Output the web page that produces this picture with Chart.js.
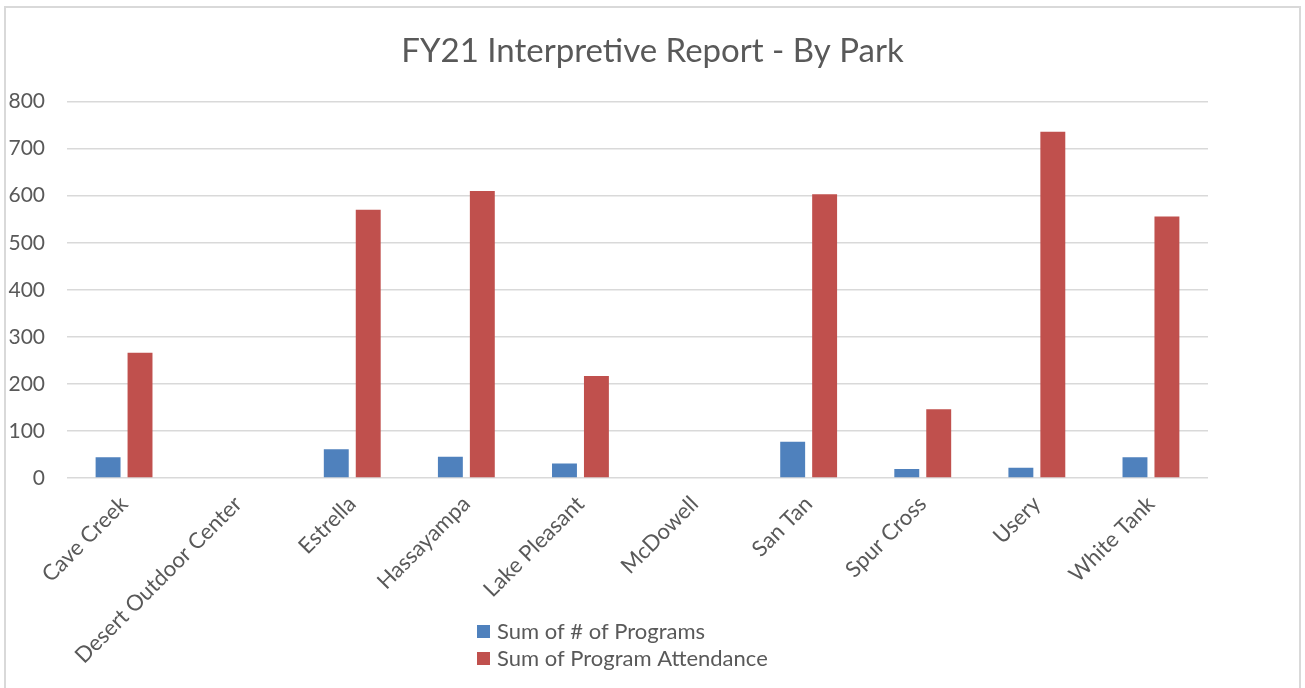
<!DOCTYPE html>
<html>
<head>
<meta charset="utf-8">
<script src="https://cdn.jsdelivr.net/npm/chart.js@4"></script>
<style>
    html, body { margin: 0; padding: 0; background: #fff; }
    #wrap { position: relative; width: 1305px; height: 688px; overflow: hidden; }
    #frame {
        position: absolute; left: 4px; top: 6px; width: 1297px; height: 720px;
        border: 2px solid #d9d9d9; box-sizing: border-box;
    }
    #parkChart { position: absolute; left: 0; top: 0; }
</style>
</head>
<body>
<div id="wrap">
    <div id="frame"></div>
    <canvas id="parkChart" width="1305" height="688"></canvas>
</div>
<script>
const parks = ['Cave Creek', 'Desert Outdoor Center', 'Estrella', 'Hassayampa', 'Lake Pleasant',
    'McDowell', 'San Tan', 'Spur Cross', 'Usery', 'White Tank'];
const programs = [44, null, 61, 45, 31, null, 77, 19, 22, 44];
const attendance = [266, null, 570, 610, 217, null, 603, 146, 736, 556];
const yTicks = [0, 100, 200, 300, 400, 500, 600, 700, 800];

const textColor = '#595959';
const fontFamily = 'Lato, "Open Sans", sans-serif';

// legenda pod grafem, polozky pod sebou jako v Excelu
const stackedLegend = {
    id: 'stackedLegend',
    afterDraw(chart) {
        const ctx = chart.ctx;
        ctx.save();
        ctx.font = '22px ' + fontFamily;
        ctx.textBaseline = 'middle';
        ctx.textAlign = 'left';
        chart.data.datasets.forEach((ds, i) => {
            const y = 632 + i * 27;
            ctx.fillStyle = ds.backgroundColor;
            ctx.fillRect(477, y - 7, 13, 13);
            ctx.fillStyle = textColor;
            ctx.fillText(ds.label, 497, y);
        });
        ctx.restore();
    }
};

const ctx = document.getElementById('parkChart').getContext('2d');
new Chart(ctx, {
    type: 'bar',
    data: {
        labels: parks,
        datasets: [{
            label: 'Sum of # of Programs',
            data: programs,
            backgroundColor: '#4F81BD',
            barPercentage: 0.78,
            categoryPercentage: 0.56
        }, {
            label: 'Sum of Program Attendance',
            data: attendance,
            backgroundColor: '#C0504D',
            barPercentage: 0.78,
            categoryPercentage: 0.56
        }]
    },
    options: {
        responsive: false,
        animation: false,
        devicePixelRatio: 1,
        layout: {
            padding: 0
        },
        scales: {
            x: {
                grid: { display: false },
                border: { display: false },
                ticks: {
                    color: textColor,
                    font: { family: fontFamily, size: 22 },
                    maxRotation: 45,
                    minRotation: 45,
                    autoSkip: false,
                    padding: 5
                },
                afterFit: scale => { scale.height = 210; }
            },
            y: {
                min: 0,
                max: 800,
                afterBuildTicks: scale => { scale.ticks = yTicks.map(v => ({ value: v })); },
                grid: { color: '#d9d9d9', lineWidth: 1.5, drawTicks: false },
                border: { display: false },
                ticks: {
                    color: textColor,
                    font: { family: fontFamily, size: 21 },
                    padding: 22
                },
                afterFit: scale => { scale.width = 67; }
            },
            // prazdne misto vpravo, aby titulek zustal uprostred platna
            yRight: {
                position: 'right',
                grid: { display: false },
                border: { display: false },
                ticks: { display: false },
                afterFit: scale => { scale.width = 97; }
            }
        },
        plugins: {
            legend: { display: false },
            tooltip: { enabled: false },
            title: {
                display: true,
                text: 'FY21 Interpretive Report - By Park',
                color: textColor,
                font: { family: fontFamily, size: 33, weight: 'normal' },
                padding: { top: 32, bottom: 30 }
            }
        }
    },
    plugins: [stackedLegend]
});
</script>
</body>
</html>
